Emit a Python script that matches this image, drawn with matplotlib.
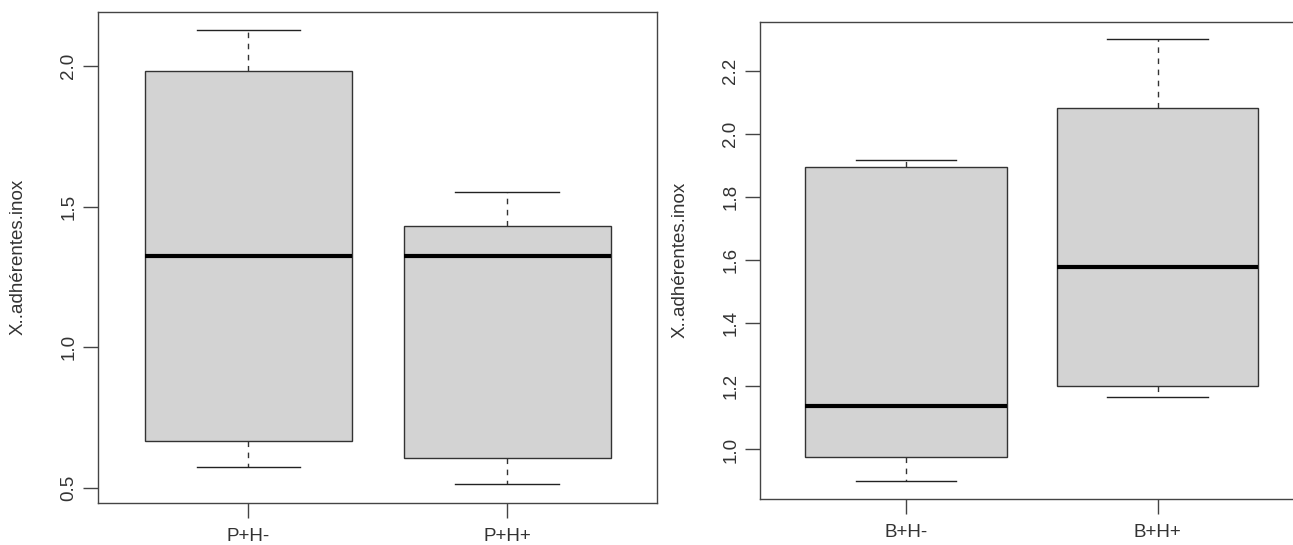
import matplotlib
matplotlib.use("Agg")
import matplotlib.pyplot as plt

plt.rcParams["font.family"] = ["Liberation Sans", "DejaVu Sans"]

# summary statistics per group (lower whisker, Q1, median, Q3, upper whisker)
p_groups = ["P+H-", "P+H+"]
p_whislo = [0.573, 0.512]
p_q1 = [0.668, 0.605]
p_med = [1.326, 1.324]
p_q3 = [1.984, 1.432]
p_whishi = [2.129, 1.552]

b_groups = ["B+H-", "B+H+"]
b_whislo = [0.899, 1.167]
b_q1 = [0.975, 1.200]
b_med = [1.138, 1.578]
b_q3 = [1.896, 2.081]
b_whishi = [1.918, 2.300]

p_yticks = [0.5, 1.0, 1.5, 2.0]
b_yticks = [1.0, 1.2, 1.4, 1.6, 1.8, 2.0, 2.2]

YLABEL = "X..adhérentes.inox"
FRAME = "#444444"
TXT = "#333333"
FS = 13.5


def r_boxplot(ax, groups, whislo, q1, med, q3, whishi, yticks):
    stats = [
        dict(label=g, whislo=lo, q1=a, med=m, q3=b, whishi=hi)
        for g, lo, a, m, b, hi in zip(groups, whislo, q1, med, q3, whishi)
    ]
    pos = list(range(1, len(groups) + 1))
    ax.bxp(
        stats, positions=pos, widths=0.8, patch_artist=True, showfliers=False,
        boxprops=dict(facecolor="#D3D3D3", edgecolor="#333333", linewidth=1.0),
        medianprops=dict(color="black", linewidth=3.0, solid_capstyle="butt"),
        whiskerprops=dict(color="#333333", linewidth=1.0, linestyle=(0, (4, 4))),
        capprops=dict(color="#222222", linewidth=1.0),
    )
    # R-style limits: 4% padding on each side
    lo, hi = min(whislo), max(whishi)
    pad = 0.04 * (hi - lo)
    ax.set_ylim(lo - pad, hi + pad)
    n = len(groups)
    ax.set_xlim(0.5 - 0.04 * n, n + 0.5 + 0.04 * n)

    ax.set_xticks(pos)
    ax.set_xticklabels(groups)
    ax.set_yticks(yticks)
    ax.set_yticklabels([f"{t:.1f}" for t in yticks], rotation=90, va="center")
    ax.tick_params(axis="both", length=11, width=1.0, color=FRAME,
                   labelsize=FS, labelcolor=TXT)
    ax.tick_params(axis="y", pad=4)
    ax.tick_params(axis="x", pad=7)
    ax.set_ylabel(YLABEL, fontsize=FS, color=TXT)
    for sp in ax.spines.values():
        sp.set_color(FRAME)
        sp.set_linewidth(1.0)


fig = plt.figure(figsize=(12.93, 5.45), dpi=100)
ax1 = fig.add_axes([0.076, 0.0778, 0.4323, 0.901])
ax2 = fig.add_axes([0.5878, 0.0844, 0.4205, 0.876])

r_boxplot(ax1, p_groups, p_whislo, p_q1, p_med, p_q3, p_whishi, p_yticks)
r_boxplot(ax2, b_groups, b_whislo, b_q1, b_med, b_q3, b_whishi, b_yticks)

ax1.yaxis.set_label_coords(-0.128, 0.5)
ax2.yaxis.set_label_coords(-0.131, 0.5)

fig.savefig("out.png", dpi=100)
